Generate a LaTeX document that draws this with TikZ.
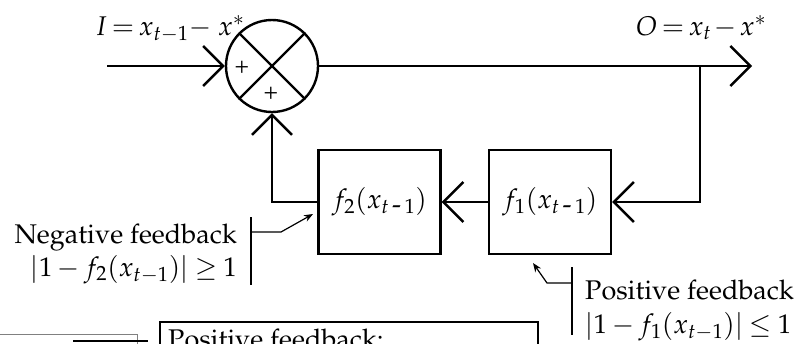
\documentclass[tikz,border=0pt]{standalone}
\usepackage[T1]{fontenc}
\usepackage{mathpazo}
\usetikzlibrary{arrows.meta}
\newcommand{\tightmath}{\medmuskip=2mu\relax\thickmuskip=3mu\relax}
\newcommand{\mediummath}{\medmuskip=3mu\relax\thickmuskip=4mu\relax}
\begin{document}
\begin{tikzpicture}[x=1pt,y=-1pt,
  wire/.style={line width=2.4pt},
  barb/.style={-{Straight Barb[length=20pt,width=40pt,line width=2.4pt]}},
  block/.style={draw,line width=2.4pt,minimum width=122pt,minimum height=104pt,inner sep=0pt},
  leader/.style={line width=1.2pt},
  pointer/.style={leader,-{Stealth[length=9pt,width=7pt]}},
  txt/.style={inner sep=0pt,font=\fontsize{27}{32}\selectfont\mediummath},
  lbl/.style={inner sep=0pt,font=\fontsize{27}{32}\selectfont\tightmath},
  upper/.style={text depth=1pt},
  lower/.style={text height=19pt},
  sign/.style={inner sep=0pt,font=\fontsize{24}{28}\selectfont}]
\useasboundingbox (0,0) rectangle (806,343);
\clip (0,0) rectangle (806,343);

% summing junction
\node (sum) [circle,draw,line width=2.4pt,minimum size=92pt,inner sep=0pt] at (272,66) {};
\draw[wire] (sum.45) -- (sum.225);
\draw[wire] (sum.135) -- (sum.315);
\node[sign] (pa) at (242,67) {+};
\node[sign] (pb) at (271,93) {+};

% blocks
\node[block,lbl] (f2) at (379.5,202) {$f_2(x_{t\,\mbox{-}\,1})$};
\node[block,lbl] (f1) at (550,202) {$f_1(x_{t\,\mbox{-}\,1})$};

% signal path
\coordinate (in) at (107,66);
\coordinate (out) at (752,66);
\coordinate (tap) at (700,66);
\draw[wire,barb] (in) -- (sum.west);
\draw[wire,barb] (sum.east) -- (out);
\draw[wire,barb] (tap) |- (f1.east);
\draw[wire,barb] (f1.west) -- (f2.east);
\draw[wire,barb] (f2.west) -| (sum.south);

% input / output labels
\node[lbl,anchor=base west] (ilab) at (95,35) {$I = x_{t-1}{-}\ x^{*}$};
\node[lbl,anchor=base west] (olab) at (636,35) {$O = x_t - x^{*}$};

% negative feedback annotation
\coordinate (nb1) at (251,217);
\coordinate (nb2) at (251,285);
\coordinate (nj) at (251,232);
\coordinate (nk) at (281,232);
\coordinate (nt) at (313,214);
\draw[leader] (nb1) -- (nb2);
\draw[pointer] (nj) -- (nk) -- (nt);
\node[txt,upper,anchor=base east] (neg1) at (237,243) {Negative feedback};
\node[txt,lower,anchor=base east] (neg2) at (237,276) {$|1 - f_2(x_{t-1})| \geq 1$};

% positive feedback annotation
\coordinate (pb1) at (572,267);
\coordinate (pb2) at (572,335);
\coordinate (pj) at (572,283);
\coordinate (pk) at (547,283);
\coordinate (pt) at (533,263);
\draw[leader] (pb1) -- (pb2);
\draw[pointer] (pj) -- (pk) -- (pt);
\node[txt,upper,anchor=base west] (pos1) at (585,299) {Positive feedback};
\node[txt,lower,anchor=base west] (pos2) at (585,333) {$|1 - f_1(x_{t-1})| \leq 1$};

% legend strip along the lower edge
\draw[line width=1pt,gray] (0,334) -- (137,334) -- (137,360);
\draw[wire] (73,341) -- (148,341);
\draw[line width=1.2pt] (160,380) -- (160,322) -- (538,322) -- (538,380);
\node[txt,anchor=base west] (legend) at (168,348) {Positive feedback:};
\end{tikzpicture}
\end{document}
